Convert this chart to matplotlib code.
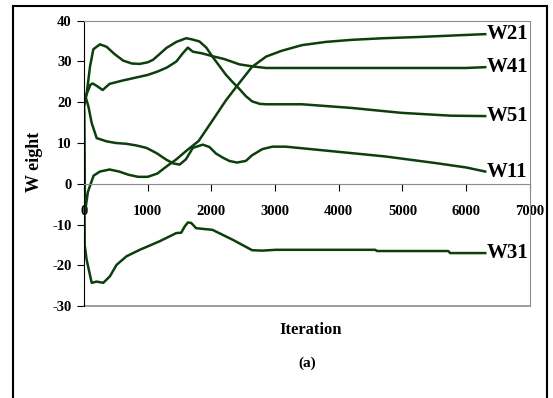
import matplotlib
matplotlib.use('Agg')
import matplotlib.pyplot as plt
from matplotlib.lines import Line2D

plt.rcParams['font.family'] = 'Liberation Serif'
plt.rcParams['font.weight'] = 'bold'
plt.rcParams['axes.unicode_minus'] = False

# weight curves (iteration, weight)
w21_x = [0, 15, 60, 150, 250, 400, 550, 700, 850, 1000, 1150, 1300, 1450, 1600, 1800,
         2016, 2230, 2437, 2640, 2860, 3100, 3420, 3800, 4200, 4700, 5250, 5700, 6140, 6300]
w21_y = [18, -7, -2, 2.0, 3.0, 3.5, 3.0, 2.2, 1.7, 1.7, 2.5, 4.3, 6.0, 8.0, 10.5,
         15.5, 20.5, 24.7, 28.7, 31.2, 32.6, 34.0, 34.8, 35.3, 35.7, 36.0, 36.3, 36.6, 36.7]

w41_x = [0, 40, 100, 136, 200, 292, 400, 600, 800, 1000, 1150, 1300, 1450, 1550, 1630,
         1708, 1850, 2016, 2200, 2437, 2640, 2860, 3000, 4000, 5000, 6000, 6300]
w41_y = [19, 22, 24.3, 24.6, 24.0, 23.0, 24.5, 25.3, 26.0, 26.7, 27.5, 28.5, 30.0, 32.0, 33.4,
         32.4, 32.0, 31.3, 30.6, 29.3, 28.8, 28.4, 28.4, 28.4, 28.4, 28.4, 28.6]

w51_x = [0, 40, 94, 146, 250, 354, 480, 615, 750, 875, 1000, 1083, 1200, 1292, 1450, 1604,
         1700, 1812, 1920, 2016, 2120, 2230, 2330, 2437, 2540, 2640, 2760, 2860, 3420, 4200,
         4980, 5760, 6300]
w51_y = [20, 22, 28.8, 33.0, 34.2, 33.6, 31.8, 30.2, 29.5, 29.4, 29.8, 30.4, 32.0, 33.3, 34.8, 35.7,
         35.4, 34.9, 33.4, 31.2, 29.0, 26.7, 25.0, 23.3, 21.5, 20.2, 19.6, 19.5, 19.5, 18.6,
         17.4, 16.7, 16.6]

w11_x = [0, 30, 68, 120, 198, 354, 500, 666, 820, 980, 1140, 1292, 1400, 1500, 1600, 1708,
         1865, 1970, 2073, 2180, 2281, 2400, 2540, 2640, 2800, 2960, 3167, 3950, 4730, 5510,
         6000, 6300]
w11_y = [22, 21, 19, 14.9, 11.2, 10.4, 10.0, 9.8, 9.4, 8.8, 7.5, 5.9, 5.0, 4.7, 6.0, 8.8,
         9.6, 9.0, 7.4, 6.4, 5.6, 5.2, 5.6, 7.0, 8.5, 9.1, 9.1, 7.9, 6.7, 5.1,
         4.0, 3.0]

w31_x = [0, 10, 40, 120, 198, 302, 406, 510, 666, 875, 1188, 1448, 1526, 1580, 1630, 1682,
         1760, 2016, 2330, 2640, 2800, 3010, 4573, 4600, 5720, 5750, 6300]
w31_y = [20, -15, -18.6, -24.3, -24.0, -24.3, -22.7, -19.9, -17.8, -16.2, -14.1, -12.1, -12.0, -10.5, -9.5, -9.6,
         -10.9, -11.3, -13.7, -16.3, -16.4, -16.2, -16.2, -16.5, -16.5, -17.0, -17.0]

curves = [('W21', w21_x, w21_y), ('W41', w41_x, w41_y), ('W51', w51_x, w51_y),
          ('W11', w11_x, w11_y), ('W31', w31_x, w31_y)]

x_ticks = [0, 1000, 2000, 3000, 4000, 5000, 6000, 7000]
y_ticks = [-30, -20, -10, 0, 10, 20, 30, 40]

line_color = '#0d3f0d'
frame_gray = '#8c8c8c'

fig = plt.figure(figsize=(5.53, 3.98), dpi=100)
ax = fig.add_axes([0.152, 0.231, 0.806, 0.717])

for name, xs, ys in curves:
    ax.plot(xs, ys, color=line_color, linewidth=1.8)
    ax.text(xs[-1] + 20, ys[-1], name, fontsize=15, fontweight='bold',
            ha='left', va='center', clip_on=False)

ax.set_xlim(0, 7000)
ax.set_ylim(-30, 40)
ax.set_xticks(x_ticks)
ax.set_yticks(y_ticks)
ax.tick_params(axis='both', labelsize=10.5, direction='out', colors='black')
ax.tick_params(axis='x', length=5, pad=10)
ax.tick_params(axis='y', length=5, pad=4)

# x axis sits on the zero line, plot area framed in grey
ax.spines['bottom'].set_position(('data', 0))
ax.spines['bottom'].set_color(frame_gray)
ax.spines['top'].set_color(frame_gray)
ax.spines['right'].set_color(frame_gray)
ax.spines['left'].set_color('black')
ax.plot([0, 1], [0, 0], transform=ax.transAxes, color=frame_gray, linewidth=1.2, clip_on=False)

fig.text(0.063, 0.593, 'W eight', rotation=90, fontsize=13, fontweight='bold', ha='center', va='center')
fig.text(0.561, 0.171, 'Iteration', fontsize=12, fontweight='bold', ha='center', va='center')
fig.text(0.555, 0.088, '(a)', fontsize=11, fontweight='bold', ha='center', va='center')

# outer border of the figure (bottom edge is cut off)
for xs, ys in [([0.024, 0.024], [-0.05, 0.985]), ([0.024, 0.989], [0.985, 0.985]),
               ([0.989, 0.989], [0.985, -0.05])]:
    fig.add_artist(Line2D(xs, ys, color='black', linewidth=1.5))

fig.savefig('out.png', dpi=100)
